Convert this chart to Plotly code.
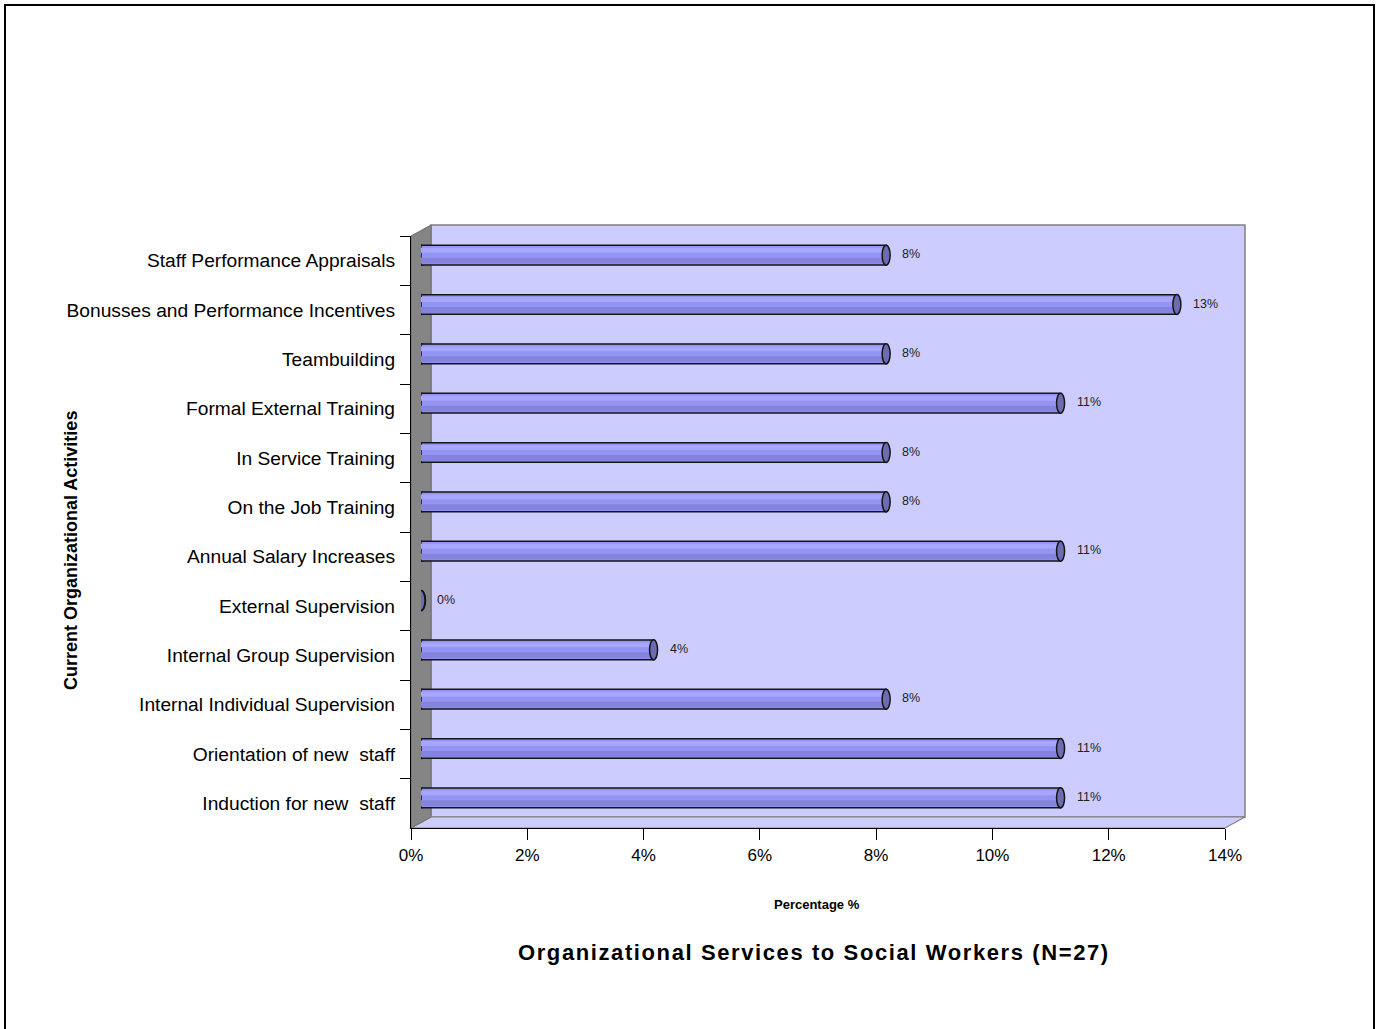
import plotly.graph_objects as go

# ---------------- data ----------------
categories = [
    "Staff Performance Appraisals",
    "Bonusses and Performance Incentives",
    "Teambuilding",
    "Formal External Training",
    "In Service Training",
    "On the Job Training",
    "Annual Salary Increases",
    "External Supervision",
    "Internal Group Supervision",
    "Internal Individual Supervision",
    "Orientation of new  staff",
    "Induction for new  staff",
]
values = [8, 13, 8, 11, 8, 8, 11, 0, 4, 8, 11, 11]
x_ticks = [0, 2, 4, 6, 8, 10, 12, 14]
x_tick_labels = [f"{t}%" for t in x_ticks]

title_text = "Organizational Services to Social Workers (N=27)"
x_title = "Percentage %"
y_title = "Current Organizational Activities"

# ---------------- geometry (pixels) ----------------
W, H = 1377, 1029
L, R, T, B = 411, 132, 225, 201
PW, PH = W - L - R, H - T - B          # plot area incl. 3D depth
DX, DY = 20, 11                         # wall depth
BDX, BDY = 10, 5.5                      # bar plane depth
FW, FH = PW - DX, PH - DY               # front axes size

def px(x):  # pixel -> paper x
    return (x - L) / PW

def py(y):  # pixel -> paper y
    return (T + PH - y) / PH

n = len(categories)
yr = [n - 0.5, -0.5]

BAR = "#9494F2"
HI = "#A6A6FF"
SH = "#8484DE"
CAP = "#6C6CB2"
EDGE = "#151515"
FONT = "Liberation Sans, Arial"

fig = go.Figure()

# phantom trace to register categories on the front axis
fig.add_trace(go.Scatter(x=values, y=categories, mode="markers",
                         marker=dict(opacity=0), hoverinfo="skip",
                         showlegend=False, xaxis="x", yaxis="y"))

# cylinder bars on the mid-depth plane
fig.add_trace(go.Bar(x=values, y=categories, orientation="h", xaxis="x2", yaxis="y2",
                     width=0.4, offset=-0.2, marker=dict(color=BAR, line=dict(color=EDGE, width=1.5)),
                     showlegend=False, hoverinfo="skip"))
fig.add_trace(go.Bar(x=values, y=categories, orientation="h", xaxis="x2", yaxis="y2",
                     width=0.1, offset=-0.15, marker=dict(color=HI, line=dict(width=0)),
                     showlegend=False, hoverinfo="skip"))
fig.add_trace(go.Bar(x=values, y=categories, orientation="h", xaxis="x2", yaxis="y2",
                     width=0.12, offset=0.05, marker=dict(color=SH, line=dict(width=0)),
                     showlegend=False, hoverinfo="skip"))

shapes = []
# outer frame
shapes.append(dict(type="rect", xref="paper", yref="paper",
                   x0=px(5), x1=px(1374), y0=py(1045), y1=py(5),
                   line=dict(color="black", width=2), fillcolor="rgba(0,0,0,0)", layer="below"))
# back wall
bx0, bx1, by0, by1 = L + DX, L + PW, T + PH - DY, T
shapes.append(dict(type="rect", xref="paper", yref="paper",
                   x0=px(bx0), x1=px(bx1), y0=py(by0), y1=py(by1),
                   line=dict(color="#808080", width=1.5), fillcolor="#CCCCFF", layer="below"))
# floor
x0f, x1f, yf, ybf = L, L + FW, T + PH, T + PH - DY
shapes.append(dict(type="path", xref="paper", yref="paper",
                   path=f"M {px(x0f)},{py(yf)} L {px(x1f)},{py(yf)} L {px(x1f+DX)},{py(ybf)} L {px(x0f+DX)},{py(ybf)} Z",
                   line=dict(color="#808080", width=1.2), fillcolor="#CCCCFF", layer="below"))
# side wall
shapes.append(dict(type="path", xref="paper", yref="paper",
                   path=f"M {px(L)},{py(T+DY)} L {px(L+DX)},{py(T)} L {px(L+DX)},{py(T+PH-DY)} L {px(L)},{py(T+PH)} Z",
                   line=dict(color="#6E6E6E", width=1), fillcolor="#858585", layer="below"))

# rounded left ends and end caps
for c, v in zip(categories, values):
    shapes.append(dict(type="circle", xref="x2", yref="y2",
                       xsizemode="pixel", ysizemode="pixel", xanchor=0, yanchor=c,
                       x0=-4.5, x1=4.5, y0=-10, y1=10,
                       fillcolor=BAR, line=dict(color=EDGE, width=1.5), layer="below"))
for c, v in zip(categories, values):
    shapes.append(dict(type="circle", xref="x2", yref="y2",
                       xsizemode="pixel", ysizemode="pixel", xanchor=v, yanchor=c,
                       x0=-4, x1=4, y0=-10, y1=10,
                       fillcolor=CAP, line=dict(color=EDGE, width=1.5), layer="above"))

annotations = []
for c, v in zip(categories, values):
    annotations.append(dict(x=v, y=c, xref="x2", yref="y2", text=f"{v}%", showarrow=False,
                            xanchor="left", yanchor="middle", xshift=14, yshift=1,
                            font=dict(family=FONT, size=12.5, color="#222222")))
annotations.append(dict(x=px(817), y=py(904), xref="paper", yref="paper", text=f"<b>{x_title}</b>",
                        xanchor="center", yanchor="middle",
                        showarrow=False, font=dict(family=FONT, size=13, color="black")))
annotations.append(dict(x=px(814), y=py(952), xref="paper", yref="paper",
                        text=f"<span style='letter-spacing:1.6px'><b>{title_text}</b></span>",
                        xanchor="center", yanchor="middle",
                        showarrow=False, font=dict(family=FONT, size=22, color="black")))
annotations.append(dict(x=px(71), y=py(551), xref="paper", yref="paper", text=f"<b>{y_title}</b>",
                        xanchor="center", yanchor="middle",
                        textangle=-90, showarrow=False,
                        font=dict(family=FONT, size=18, color="black")))

fig.update_layout(
    width=W, height=H,
    margin=dict(l=L, r=R, t=T, b=B, pad=0),
    paper_bgcolor="white", plot_bgcolor="rgba(0,0,0,0)",
    barmode="overlay", showlegend=False,
    font=dict(family=FONT, color="black"),
    shapes=shapes, annotations=annotations,
    xaxis=dict(domain=[0, FW / PW], range=[0, 14], tickvals=x_ticks, ticktext=x_tick_labels,
               showline=True, linecolor="black", linewidth=1.2, ticks="outside", ticklen=11,
               tickcolor="black", tickwidth=1.2, showgrid=False, zeroline=False,
               tickfont=dict(size=17), fixedrange=True, anchor="y"),
    yaxis=dict(domain=[0, FH / PH], type="category", categoryorder="array", categoryarray=categories,
               range=yr, showline=True, linecolor="black", linewidth=1.2, ticks="outside",
               ticklen=10, tickcolor="black", tickwidth=1.2, tickson="boundaries",
               ticklabelstandoff=11,
               showgrid=False, zeroline=False, tickfont=dict(size=19.2), anchor="x"),
    xaxis2=dict(domain=[BDX / PW, (FW + BDX) / PW], range=[0, 14], visible=False, anchor="y2"),
    yaxis2=dict(domain=[BDY / PH, (FH + BDY) / PH], type="category", categoryorder="array",
                categoryarray=categories, range=yr, visible=False, anchor="x2"),
)

fig.write_html("out.html", config={"displayModeBar": False},
               post_script="document.body.style.margin='0px';document.body.style.overflow='hidden';")
